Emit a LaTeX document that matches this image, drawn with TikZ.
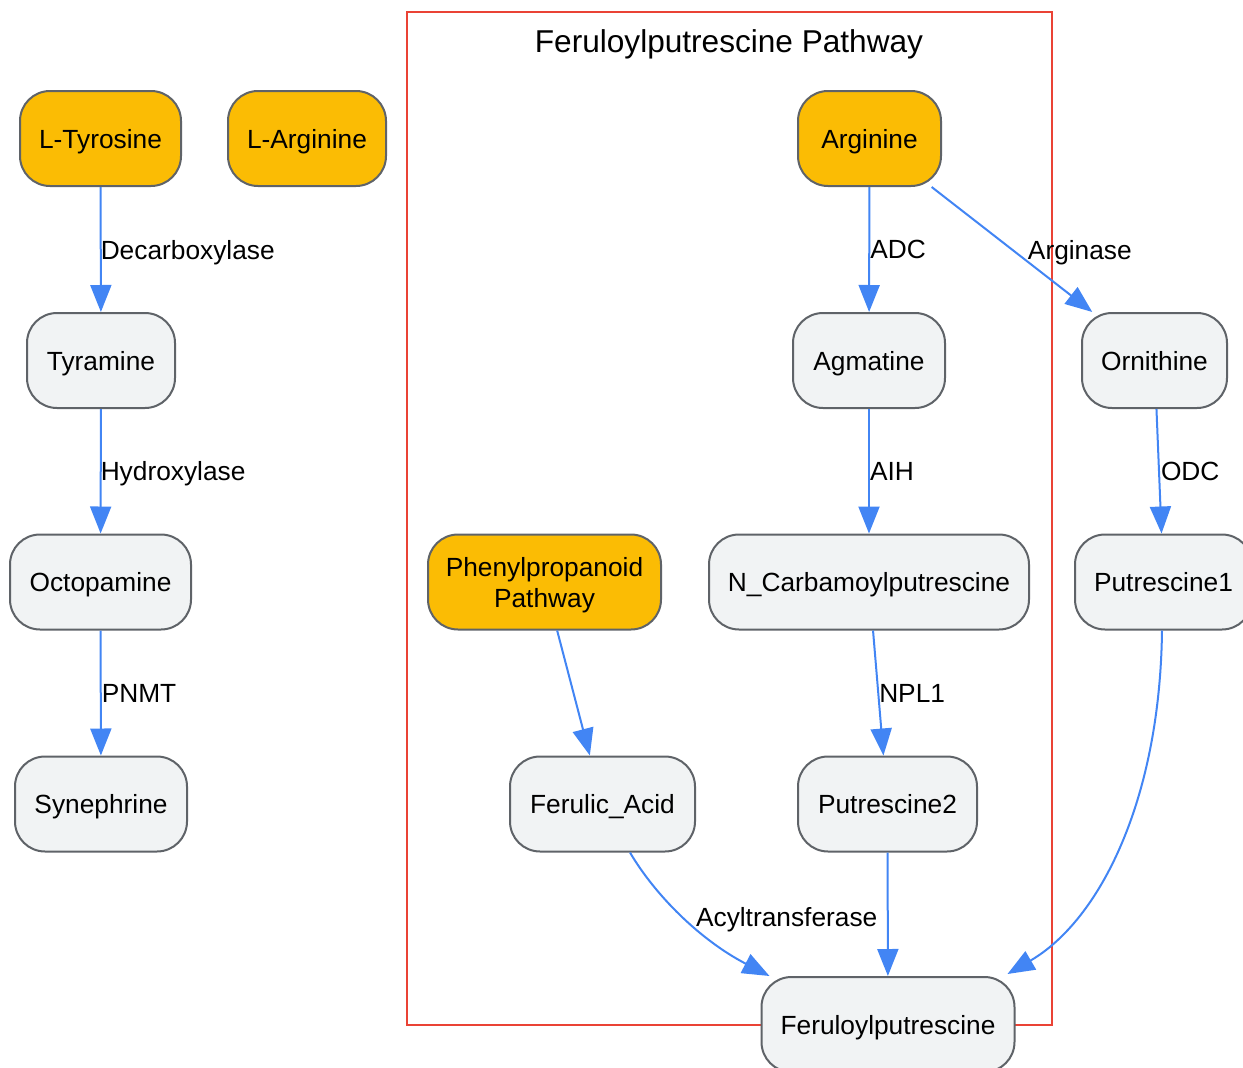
\documentclass[tikz,border=0pt]{standalone}
\usepackage{fontspec}
\setmainfont{Liberation Sans}
\usetikzlibrary{arrows.meta,calc}
\definecolor{gyellow}{HTML}{FBBC04}
\definecolor{ggray}{HTML}{F1F3F4}
\definecolor{gborder}{HTML}{5F6368}
\definecolor{gblue}{HTML}{4285F4}
\definecolor{gred}{HTML}{EA4335}
\tikzset{
  base/.style={rectangle, rounded corners=30pt, draw=gborder, line width=2pt,
    minimum height=95pt, inner sep=0pt, align=center, text depth=0pt,
    font=\fontsize{26.3pt}{31pt}\selectfont, text=black},
  src/.style={base, fill=gyellow},
  mid/.style={base, fill=ggray},
  edge/.style={draw=gblue, line width=2pt, -{Triangle[length=27pt,width=21pt]}},
  elabel/.style={anchor=west, inner sep=0pt, text depth=0pt, font=\fontsize{26.3pt}{31pt}\selectfont, text=black},
  cluster/.style={draw=gred, line width=2.2pt},
}
\begin{document}
\begin{tikzpicture}[x=1pt,y=-1pt]
\useasboundingbox (0,0) rectangle (1243,1068);
\clip (0,0) rectangle (1243,1068);
% cluster
\draw[cluster] (407,12) rectangle (1052,1025);
\node[font=\fontsize{31.6pt}{36pt}\selectfont, text=black, inner sep=0pt, text depth=0pt] (title) at (729,41) {Feruloylputrescine Pathway};
% nodes
\node[src, minimum width=161pt] (tyr) at (100.5,138.5) {L-Tyrosine};
\node[src, minimum width=158pt] (larg) at (307,138.5) {L-Arginine};
\node[src, minimum width=143pt] (arg) at (869.5,138.5) {Arginine};
\node[mid, minimum width=148pt] (tyra) at (101,360.5) {Tyramine};
\node[mid, minimum width=152pt] (agm) at (869,360.5) {Agmatine};
\node[mid, minimum width=145pt] (orn) at (1154.5,360.5) {Ornithine};
\node[mid, minimum width=181pt] (oct) at (100.5,582) {Octopamine};
\node[src, minimum width=233pt] (php) at (544.5,582) {Phenylpropanoid\\Pathway};
\node[mid, minimum width=320pt] (ncp) at (869,582) {N\_Carbamoylputrescine};
\node[mid, minimum width=177pt] (p1) at (1163.5,582) {Putrescine1};
\node[mid, minimum width=172pt] (syn) at (101,804) {Synephrine};
\node[mid, minimum width=185pt] (fa) at (602.5,804) {Ferulic\_Acid};
\node[mid, minimum width=179pt] (p2) at (887.5,804) {Putrescine2};
\node[mid, minimum width=253pt] (fp) at (888,1024.5) {Feruloylputrescine};
% edges
\draw[edge] (tyr) -- node[elabel, xshift=-1pt]{Decarboxylase} (tyra);
\draw[edge] (tyra) -- node[elabel, xshift=-1pt]{Hydroxylase} (oct);
\draw[edge] (oct) -- node[elabel]{PNMT} (syn);
\draw[edge] (arg) -- node[elabel]{ADC} (agm);
\draw[edge] (arg) -- node[elabel, xshift=15pt]{Arginase} (orn);
\draw[edge] (agm) -- node[elabel]{AIH} (ncp);
\draw[edge] (orn) -- node[elabel, xshift=1pt]{ODC} (p1);
\draw[edge] (ncp) -- node[elabel]{NPL1} (p2);
\draw[edge] (php) -- (fa);
\draw[edge] (p2) -- (fp);
\draw[edge] ($(fa.south)+(27.5,0)$) .. controls (655,895) and (700,940) .. ($(fp.north west)+(9,0)$)
  node[elabel, pos=0.5, xshift=12pt]{Acyltransferase};
\draw[edge] ($(p1.south)+(-1.5,0)$) .. controls (1160,800) and (1100,920) .. ($(fp.north east)+(-8,-2)$);
\end{tikzpicture}
\end{document}
